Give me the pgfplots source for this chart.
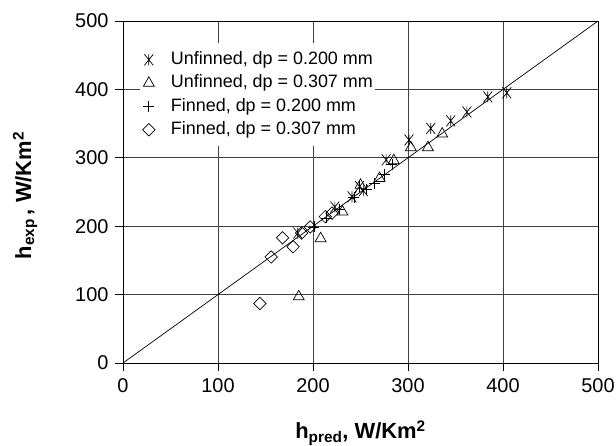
\documentclass[border=0pt]{standalone}
\usepackage{pgfplots}
\pgfplotsset{compat=1.18}
\usepackage{fontspec}
\setmainfont{Liberation Sans}

% X with a vertical bar, as in the spreadsheet chart
\pgfdeclareplotmark{xbar}{%
  \pgfpathmoveto{\pgfqpoint{0pt}{\pgfplotmarksize}}%
  \pgfpathlineto{\pgfqpoint{0pt}{-\pgfplotmarksize}}%
  \pgfpathmoveto{\pgfqpoint{-0.8\pgfplotmarksize}{\pgfplotmarksize}}%
  \pgfpathlineto{\pgfqpoint{0.8\pgfplotmarksize}{-\pgfplotmarksize}}%
  \pgfpathmoveto{\pgfqpoint{-0.8\pgfplotmarksize}{-\pgfplotmarksize}}%
  \pgfpathlineto{\pgfqpoint{0.8\pgfplotmarksize}{\pgfplotmarksize}}%
  \pgfusepathqstroke}

\begin{document}
\begin{tikzpicture}
\path[use as bounding box] (-123bp,-83bp) rectangle (493bp,363bp);
\begin{axis}[
    at={(0,0)}, anchor=south west,
    scale only axis,
    width=475bp, height=342bp,
    xmin=0, xmax=500, ymin=0, ymax=500,
    xtick={0,100,...,500}, ytick={0,100,...,500},
    tick pos=left, tick align=outside,
    major tick length=8bp,
    tick style={black, line width=0.7pt},
    grid=major,
    major grid style={black!75, line width=0.8pt},
    axis line style={black, line width=0.8pt},
    /pgf/number format/assume math mode=true,
    ticklabel style={font=\fontsize{20}{23}\selectfont},
    xticklabel style={yshift=-4bp},
    yticklabel style={xshift=-3bp},
    xlabel={\textbf{h\textsubscript{pred}, W/Km\textsuperscript{2}}},
    ylabel={\textbf{h\textsubscript{exp}\,, W/Km\textsuperscript{2}}},
    label style={font=\fontsize{22}{25}\selectfont},
    xlabel style={at={(axis description cs:0.5,-0.205)}, anchor=center},
    ylabel style={at={(axis description cs:-0.206,0.49)}, anchor=center, rotate=0},
    legend style={
        at={(axis description cs:0.036,0.936)}, anchor=north west,
        draw=none, fill=white,
        font=\fontsize{18}{21}\selectfont,
        inner xsep=2bp, inner ysep=8bp,
        row sep=5.8bp, column sep=0pt,
        nodes={inner sep=0pt, text height=13.5bp, text depth=4bp},
        cells={anchor=west},
    },
    legend image code/.code={%
        \path (0bp,0bp) (28bp,0bp);
        \draw[#1] plot coordinates {(6.2bp,0bp)};
    },
    every axis plot/.append style={black, line width=0.7pt},
]
\addplot[only marks, mark=xbar, mark size=5.5bp] coordinates {
    (184,190) (223,228) (241,243) (249,258) (253,252) (277,297)
    (301,326) (324,343) (345,354) (362,367) (384,389) (404,395)
};
\addlegendentry{Unfinned, dp = 0.200 mm}
\addplot[only marks, mark=triangle, mark size=6.3bp] coordinates {
    (185,97) (208,182) (231,221) (250,260) (270,270) (285,296)
    (303,315) (321,315) (336,335)
};
\addlegendentry{Unfinned, dp = 0.307 mm}
\addplot[only marks, mark=+, mark size=5.5bp] coordinates {
    (201,199) (214,212) (228,224) (243,242) (256,254) (265,262)
    (275,276) (283,290)
};
\addlegendentry{Finned, dp = 0.200 mm}
\addplot[only marks, mark=square, mark size=4.4bp, mark options={rotate=45}] coordinates {
    (144,87) (156,155) (168,183) (179,170) (188,190) (197,199)
    (213,214) (220,219)
};
\addlegendentry{Finned, dp = 0.307 mm}
\addplot[black, line width=0.7pt, forget plot] coordinates {(0,0) (500,500)};
\end{axis}
\end{tikzpicture}
\end{document}
